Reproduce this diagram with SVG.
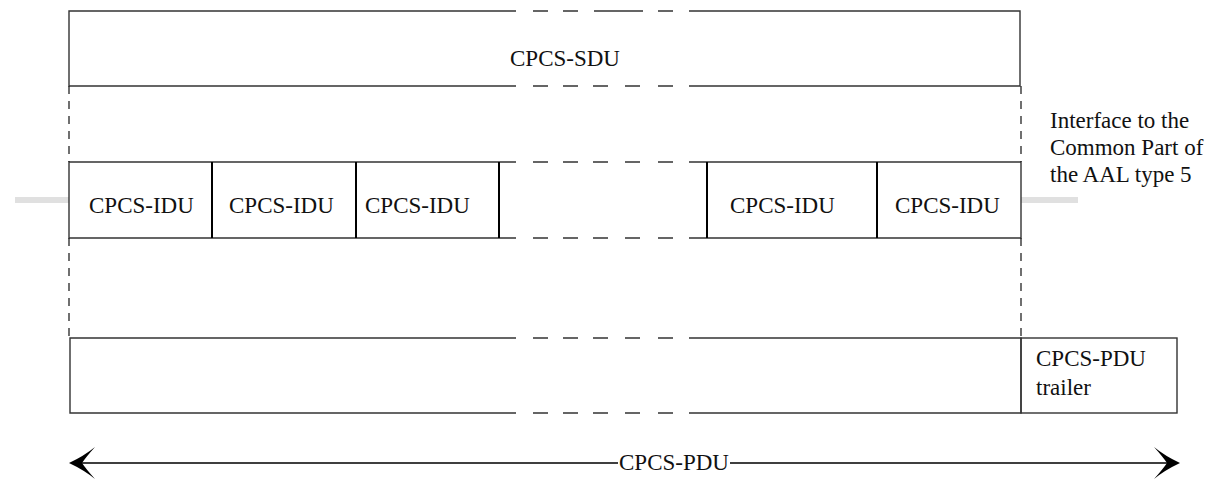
<svg xmlns="http://www.w3.org/2000/svg" width="1223" height="479" viewBox="0 0 1223 479">
<style>
.t{font-family:'Liberation Serif','DejaVu Serif',serif;font-size:23px;fill:#111}
.ln{stroke:#333;stroke-width:1.4;fill:none}
.dv{stroke:#000;stroke-width:2;fill:none}
.dvv{stroke:#111;stroke-width:1.2;fill:none;stroke-dasharray:8 7}
.gray{stroke:#e0e0e0;stroke-width:6;fill:none}
</style>
<defs>
<path id="dashrow" d="M533,0 H548 M563,0 H578 M593,0 H608 M625,0 H640 M658,0 H673"/>
</defs>
<rect width="1223" height="479" fill="#fff"/>
<g id="interface-line">
<line class="gray" x1="15" y1="200" x2="69" y2="200"/>
<line class="gray" x1="1021" y1="200" x2="1078" y2="200"/>
</g>
<g id="sdu">
<path class="ln" d="M516,11 H69 V86 H516 M689,11 H1020 V86 H689"/>
<path class="ln" d="M533,11 H548 M563,11 H578 M594,11 H643 M658,11 H673"/>
<use href="#dashrow" class="ln" y="86"/>
<text class="t" x="510" y="66">CPCS-SDU</text>
</g>
<g id="idu-row">
<path class="ln" d="M516,162 H69 V238 H516 M689,162 H1021 V238 H689"/>
<use href="#dashrow" class="ln" y="162"/>
<use href="#dashrow" class="ln" y="238"/>
<path class="dv" d="M212,162 V238 M356,162 V238 M499,162 V238 M707,162 V238 M877,162 V238"/>
<text class="t" x="89" y="213">CPCS-IDU</text>
<text class="t" x="229" y="213">CPCS-IDU</text>
<text class="t" x="365" y="213">CPCS-IDU</text>
<text class="t" x="730" y="213">CPCS-IDU</text>
<text class="t" x="895" y="213">CPCS-IDU</text>
</g>
<g id="interface-label">
<text class="t" x="1050" y="128">Interface to the</text>
<text class="t" x="1050" y="155">Common Part of</text>
<text class="t" x="1050" y="182">the AAL type 5</text>
</g>
<g id="pdu">
<path class="ln" d="M516,338 H70 V413 H516 M689,338 H1021 V413 H689"/>
<use href="#dashrow" class="ln" y="338"/>
<use href="#dashrow" class="ln" y="413"/>
</g>
<g id="trailer">
<rect class="ln" x="1021" y="338" width="156" height="75"/>
<text class="t" x="1036" y="366">CPCS-PDU</text>
<text class="t" x="1036" y="395">trailer</text>
</g>
<g id="connectors">
<path class="dvv" d="M69,86 V162 M69,238 V338 M1021,86 V162 M1021,238 V338"/>
<path stroke="#000" stroke-width="1.3" d="M78,463 H618 M730,463 H1171"/>
<path fill="#000" d="M69,463 Q84,456 95,447 Q86,457 82,463 Q86,469 95,479 Q84,470 69,463 Z"/>
<path fill="#000" d="M1180,463 Q1165,456 1154,447 Q1163,457 1167,463 Q1163,469 1154,479 Q1165,470 1180,463 Z"/>
<text class="t" x="619" y="470">CPCS-PDU</text>
</g>
</svg>
